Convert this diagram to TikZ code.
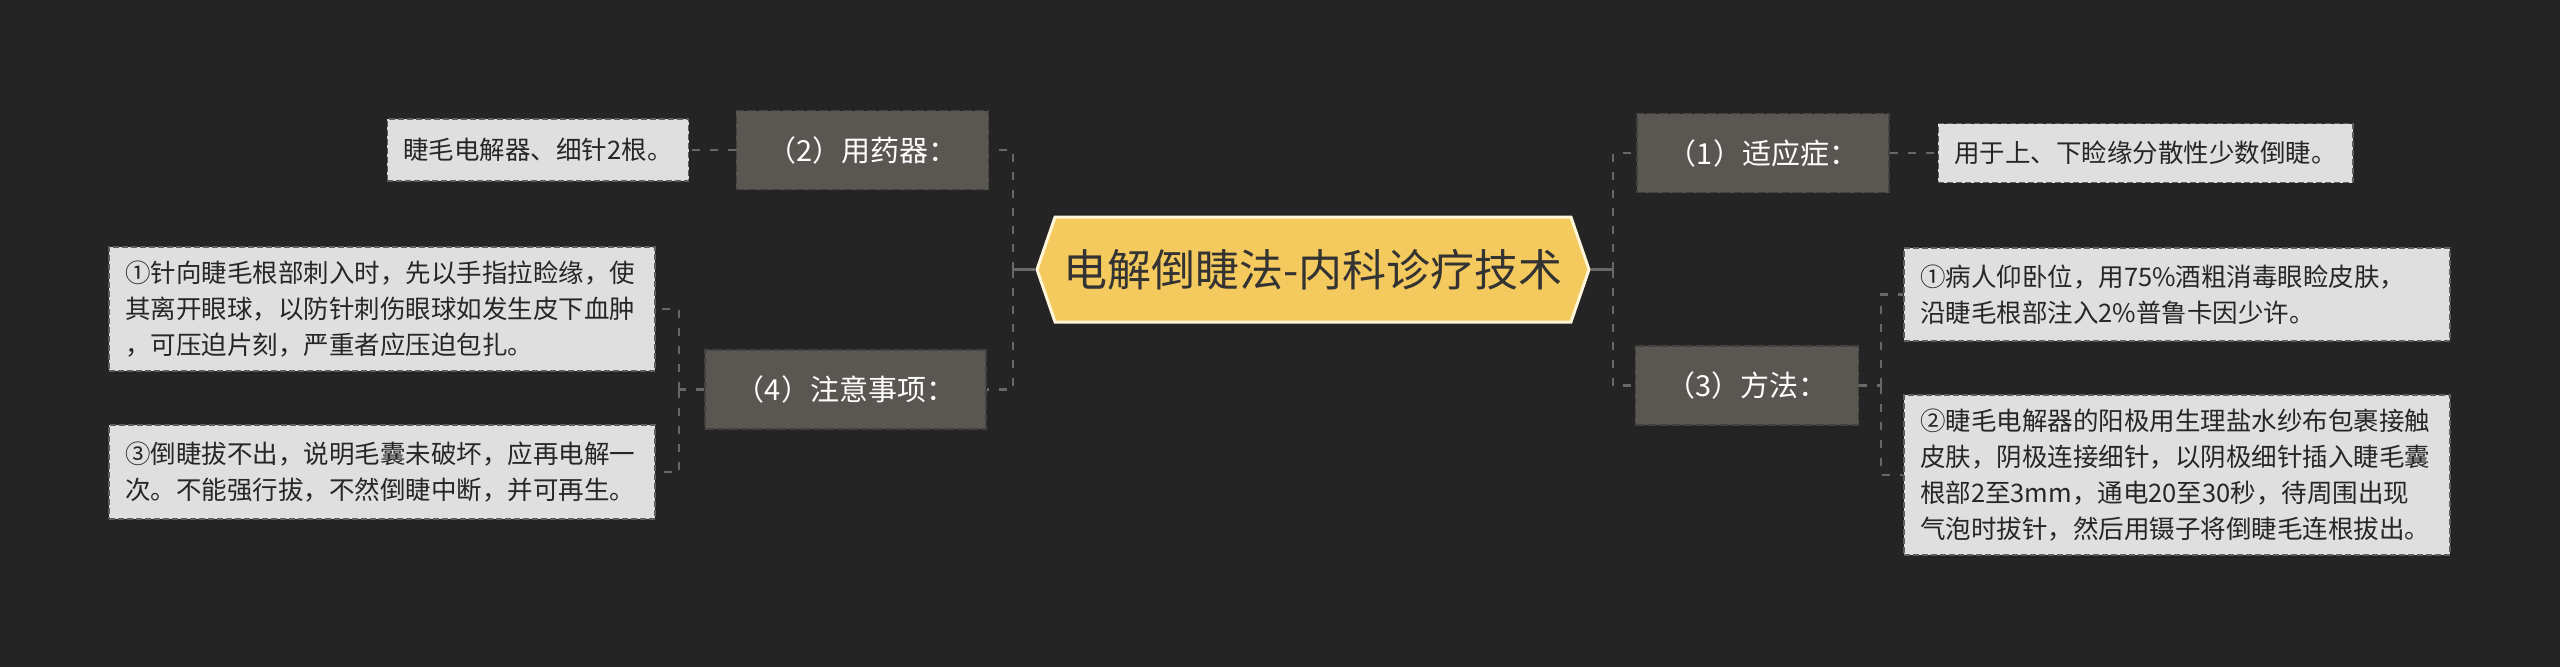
\documentclass[tikz,border=0pt]{standalone}
\usepackage{fontspec}
\setmainfont{Noto Sans CJK SC}
\usetikzlibrary{shapes.symbols}
\definecolor{bgdark}{HTML}{242424}
\definecolor{rootfill}{HTML}{F4C95D}
\definecolor{rootedge}{HTML}{FFF6DA}
\definecolor{branchfill}{HTML}{5A5652}
\definecolor{branchedge}{HTML}{434040}
\definecolor{leaffill}{HTML}{DFDFDF}
\definecolor{leafedge}{HTML}{5E5E5E}
\definecolor{linkgray}{HTML}{686868}
\tikzset{
  rootnode/.style={signal, signal to=west and east, signal pointer angle=142,
    fill=rootfill, draw=rootedge, line width=3pt, minimum width=552pt,
    minimum height=105pt, inner sep=0pt, text=black!80,
    font=\fontsize{44}{50}\selectfont},
  branch/.style={rectangle, fill=branchfill, draw=branchedge,
    dash pattern=on 9pt off 3pt, line width=1.5pt, text=white,
    font=\fontsize{29}{34}\selectfont, minimum height=79pt, inner xsep=31pt},
  leaf/.style={rectangle, fill=leaffill, draw=leafedge,
    dash pattern=on 6pt off 3pt, line width=1.5pt, text=black!85,
    font=\fontsize{25.5}{36}\selectfont, inner xsep=16pt, inner ysep=8pt},
  longleaf/.style={leaf, text width=514pt, align=left},
  link/.style={draw=linkgray, line width=2.5pt, dash pattern=on 8pt off 10pt},
  stem/.style={draw=linkgray, line width=3pt}
}

\begin{document}
\begin{tikzpicture}[x=1pt, y=-1pt]
  \fill[bgdark] (0,0) rectangle (2560,667);
  \useasboundingbox (0,0) rectangle (2560,667);

  \node[rootnode] (root) at (1313,269.5) {电解倒睫法-内科诊疗技术};

  \node[branch] (b2) at (862.5,150) {（2）用药器：};
  \node[branch] (b4) at (845.5,389.5) {（4）注意事项：};
  \node[branch] (b1) at (1763,153) {（1）适应症：};
  \node[branch] (b3) at (1747,385.5) {（3）方法：};

  \node[leaf, minimum height=62pt] (l2) at (538,150) {睫毛电解器、细针2根。};
  \node[longleaf, minimum height=124pt] (l4a) at (382,309)
    {①针向睫毛根部刺入时，先以手指拉睑缘，使\\其离开眼球，以防针刺伤眼球如发生皮下血肿\\，可压迫片刻，严重者应压迫包扎。};
  \node[longleaf, minimum height=94pt] (l4b) at (382,472)
    {③倒睫拔不出，说明毛囊未破坏，应再电解一\\次。不能强行拔，不然倒睫中断，并可再生。};
  \node[leaf, minimum height=59pt] (l1) at (2145.5,153) {用于上、下睑缘分散性少数倒睫。};
  \node[longleaf, minimum height=93pt] (l3a) at (2177,294.5)
    {①病人仰卧位，用75\%酒粗消毒眼睑皮肤，\\沿睫毛根部注入2\%普鲁卡因少许。};
  \node[longleaf, minimum height=160pt] (l3b) at (2177,475)
    {②睫毛电解器的阳极用生理盐水纱布包裹接触\\皮肤，阴极连接细针，以阴极细针插入睫毛囊\\根部2至3mm，通电20至30秒，待周围出现\\气泡时拔针，然后用镊子将倒睫毛连根拔出。};

  \coordinate (jL) at (1013,269.5);
  \coordinate (jR) at (1613,269.5);
  \coordinate (j4) at (679,389.5);
  \coordinate (j3) at (1881,385.5);

  \draw[stem] (root.west) -- (jL);
  \draw[link] (jL) |- (b2.east);
  \draw[link] (jL) |- (b4.east);
  \draw[stem] (root.east) -- (jR);
  \draw[link] (jR) |- (b1.west);
  \draw[link] (jR) |- (b3.west);
  \draw[link] (b2.west) -- (l2.east);
  \draw[link] (b1.east) -- (l1.west);
  \draw[link] (b4.west) -- (j4);
  \draw[link] (j4) |- (l4a.east);
  \draw[link] (j4) |- (l4b.east);
  \draw[link] (b3.east) -- (j3);
  \draw[link] (j3) |- (l3a.west);
  \draw[link] (j3) |- (l3b.west);
\end{tikzpicture}
\end{document}
